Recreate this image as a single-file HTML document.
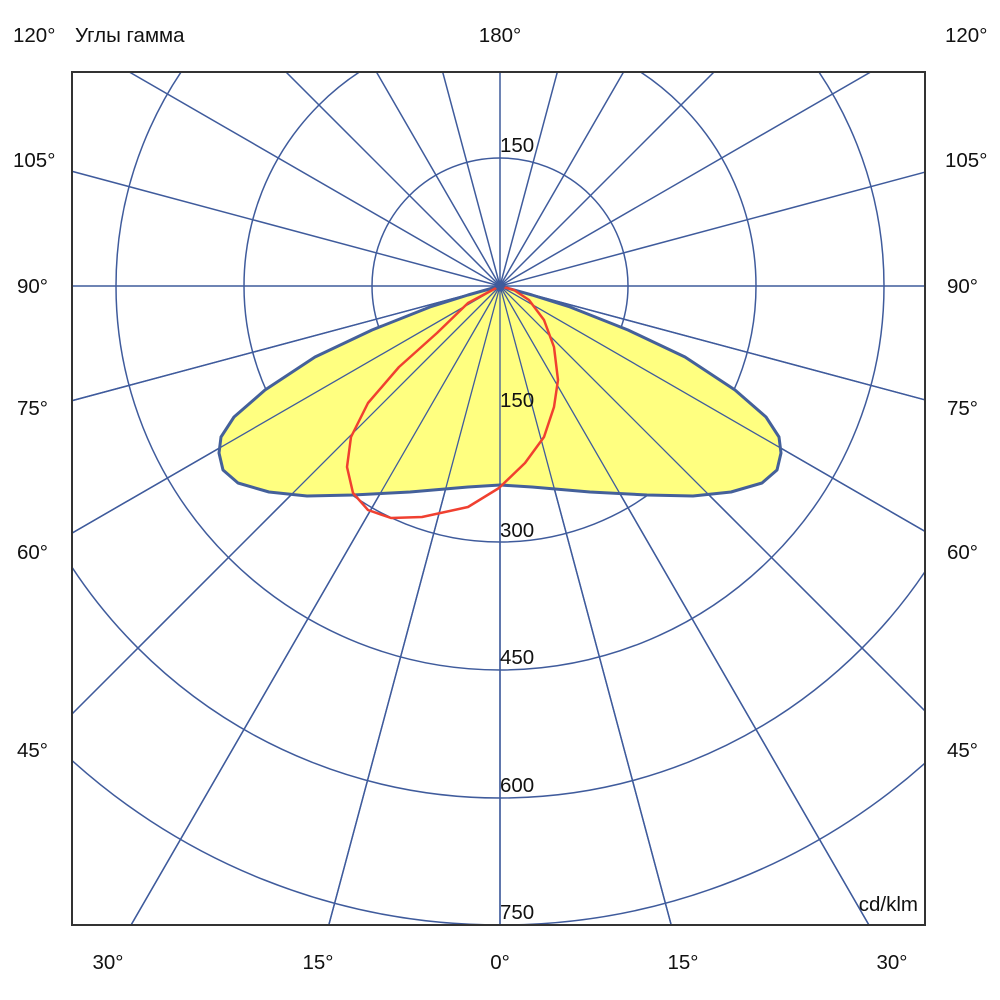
<!DOCTYPE html>
<html><head><meta charset="utf-8"><style>
html,body{margin:0;padding:0;background:#fff;width:1000px;height:1000px;overflow:hidden;}
svg{display:block;}
text{font-family:"Liberation Sans","DejaVu Sans",sans-serif;font-size:20.5px;fill:#111;}
</style></head><body>
<svg width="1000" height="1000" viewBox="0 0 1000 1000" xmlns="http://www.w3.org/2000/svg">
<defs><clipPath id="c"><rect x="72" y="72" width="853" height="853"/></clipPath></defs>
<g clip-path="url(#c)" stroke="#3f5b9c" stroke-width="1.5" fill="none">
<circle cx="500" cy="286" r="128"/>
<circle cx="500" cy="286" r="256"/>
<circle cx="500" cy="286" r="384"/>
<circle cx="500" cy="286" r="512"/>
<circle cx="500" cy="286" r="639"/>
<g id="rays">
<line x1="500" y1="286" x2="500" y2="1500"/>
<line x1="500" y1="286" x2="500" y2="-1000"/>
<line x1="-700" y1="286" x2="1700" y2="286"/>
</g>
</g>
<g clip-path="url(#c)">
<path d="M500,286 L468,295 L430,307 L372,330 L315,357 L265,390 L234,417 L221,437 L219,453 L223,470 L238,483 L269,492 L307,496 L353,495 L410,492 L468,487 L500,485 L532,487 L590,492 L647,495 L693,496 L731,492 L762,483 L777,470 L781,453 L779,437 L766,417 L735,390 L685,357 L628,330 L570,307 L532,295 Z" fill="#ffff80" stroke="none"/>
<g id="rays2" stroke="#3f5b9c" stroke-width="1.3"></g>
<path d="M500,286 L468,295 L430,307 L372,330 L315,357 L265,390 L234,417 L221,437 L219,453 L223,470 L238,483 L269,492 L307,496 L353,495 L410,492 L468,487 L500,485 L532,487 L590,492 L647,495 L693,496 L731,492 L762,483 L777,470 L781,453 L779,437 L766,417 L735,390 L685,357 L628,330 L570,307 L532,295 Z" fill="none" stroke="#44609a" stroke-width="3" stroke-linejoin="round"/>
<path d="M500,286 L468,303 L437,333 L399,367 L368,403 L351,437 L347,467 L353,493 L368,510 L391,518 L422,517 L468,507 L499,488 L525,463 L544,437 L554,407 L558,380 L554,347 L544,320 L529,300 L514,290 Z" fill="none" stroke="#f04030" stroke-width="2.5" stroke-linejoin="round"/>
<polygon points="500,280 506,286 500,292 494,286" fill="#3f5b9c"/>
</g>
<rect x="72" y="72" width="853" height="853" fill="none" stroke="#333" stroke-width="2"/>
<text x="13" y="42">120°</text>
<text x="75" y="42">Углы гамма</text>
<text x="500" y="42" text-anchor="middle">180°</text>
<text x="945" y="42">120°</text>
<text x="13" y="167">105°</text><text x="945" y="167">105°</text>
<text x="17" y="293">90°</text><text x="947" y="293">90°</text>
<text x="17" y="415">75°</text><text x="947" y="415">75°</text>
<text x="17" y="559">60°</text><text x="947" y="559">60°</text>
<text x="17" y="757">45°</text><text x="947" y="757">45°</text>
<text x="108" y="969" text-anchor="middle">30°</text>
<text x="318" y="969" text-anchor="middle">15°</text>
<text x="500" y="969" text-anchor="middle">0°</text>
<text x="683" y="969" text-anchor="middle">15°</text>
<text x="892" y="969" text-anchor="middle">30°</text>
<text x="500" y="152">150</text>
<text x="500" y="407">150</text>
<text x="500" y="537">300</text>
<text x="500" y="664">450</text>
<text x="500" y="792">600</text>
<text x="500" y="919">750</text>
<text x="918" y="911" text-anchor="end">cd/klm</text>
<script>
(function(){
var ns="http://www.w3.org/2000/svg";
var g1=document.getElementById("rays"),g2=document.getElementById("rays2");
for(var a=15;a<360;a+=15){
 if(a%90==0)continue;
 var r=a*Math.PI/180;
 var x=500+1400*Math.sin(r),y=286+1400*Math.cos(r);
 var l=document.createElementNS(ns,"line");
 l.setAttribute("x1",500);l.setAttribute("y1",286);l.setAttribute("x2",x);l.setAttribute("y2",y);
 g1.appendChild(l);
 if(Math.cos(r)>0){var l2=l.cloneNode();g2.appendChild(l2);}
}
var v=document.createElementNS(ns,"line");v.setAttribute("x1",500);v.setAttribute("y1",286);v.setAttribute("x2",500);v.setAttribute("y2",1000);g2.appendChild(v);
})();
</script>
</svg>
</body></html>
